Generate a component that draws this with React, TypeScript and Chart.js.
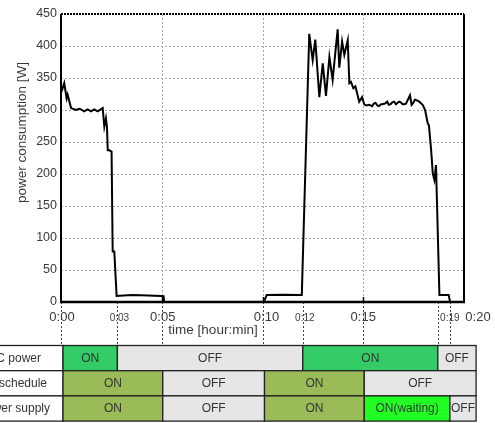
import { useEffect, useRef } from 'react';
import { Chart, registerables } from 'chart.js';

Chart.register(...registerables);

// ---- data ----
const timeMin = [0, 0.05, 0.16, 0.28, 0.33, 0.5, 0.74, 0.9, 0.99, 1.15, 1.32, 1.49, 1.65, 1.82, 2.07, 2.15, 2.23, 2.28, 2.32, 2.4, 2.51, 2.565, 2.645, 2.76, 3.5, 4.0, 4.96, 5.09, 5.12, 10.07, 10.21, 11.0, 11.95, 12.32, 12.49, 12.62, 12.82, 12.99, 13.15, 13.32, 13.48, 13.73, 13.81, 13.95, 14.06, 14.23, 14.31, 14.39, 14.51, 14.61, 14.72, 14.8, 14.94, 15.05, 15.15, 15.3, 15.44, 15.52, 15.61, 15.7, 15.78, 15.88, 15.94, 16.08, 16.19, 16.27, 16.36, 16.44, 16.53, 16.62, 16.69, 16.78, 16.86, 16.95, 17.03, 17.12, 17.32, 17.4, 17.48, 17.56, 17.66, 17.78, 17.95, 18.07, 18.2, 18.26, 18.37, 18.45, 18.53, 18.61, 18.78, 19.24, 19.31, 20];
const powerW = [327, 331, 342, 318, 324, 303, 300, 302, 301, 298, 301, 298, 301, 298, 303, 274, 287, 274, 237, 237, 235, 79, 79, 9.5, 11, 10.5, 9.5, 9, 0, 0, 11, 11.5, 11, 419, 378, 410, 320, 373, 322, 383, 347, 426, 366, 407, 386, 409, 342, 344, 334, 337, 323, 313, 320, 309, 307, 308, 306, 310, 311, 307, 306, 309, 309, 310, 313, 308, 309, 312, 313, 309, 311, 313, 312, 309, 309, 310, 323, 308, 311, 316, 315, 313, 308, 300, 279, 276, 237, 201, 191, 214, 11, 11, 0, 0];

const yGridValues = [50, 100, 150, 200, 250, 300, 350, 400];
const xGridValues = [5, 10, 15];
const xMajorTicks = [0, 5, 10, 15, 20];
const xMajorLabels = ['0:00', '0:05', '0:10', '0:15', '0:20'];
const xMinorTicks = [2.8, 12, 19];
const xMinorLabels = ['0:03', '0:12', '0:19'];
const xExtensionLines = [0, 2.8, 5, 10, 12, 15, 18.7, 19.3];

const rowLabels = ['PC power', 'schedule', 'power supply'];
const row1Bounds = [0.1, 2.8, 12, 18.7, 20.6];
const row1States = ['ON', 'OFF', 'ON', 'OFF'];
const row2Bounds = [0.1, 5.05, 10.1, 15.05, 20.6];
const row2States = ['ON', 'OFF', 'ON', 'OFF'];
const row3Bounds = [0.1, 5.05, 10.1, 15.05, 19.3, 20.6];
const row3States = ['ON', 'OFF', 'ON', 'ON(waiting)', 'OFF'];

const FONT = '"Liberation Sans", Arial, Helvetica, sans-serif';

const decor = {
  id: 'decor',
  beforeDatasetsDraw(chart: any) {
    const { ctx, chartArea: a, scales } = chart;
    const x = scales.x, y = scales.y;
    ctx.save();
    ctx.strokeStyle = '#a6a6a6';
    ctx.lineWidth = 1;
    ctx.setLineDash([2, 2]);
    ctx.beginPath();
    yGridValues.forEach((v) => {
      const py = Math.round(y.getPixelForValue(v)) + 0.5;
      ctx.moveTo(a.left, py);
      ctx.lineTo(a.right, py);
    });
    xGridValues.forEach((t) => {
      const px = Math.round(x.getPixelForValue(t)) + 0.5;
      ctx.moveTo(px, a.top);
      ctx.lineTo(px, a.bottom);
    });
    ctx.stroke();
    ctx.restore();
  },
  afterDraw(chart: any) {
    const { ctx, chartArea: a, scales } = chart;
    const x = scales.x;
    const tableTop = a.bottom + 43.5;
    const rowH = 25.2;
    ctx.save();

    // extension dotted lines below the axis
    ctx.strokeStyle = '#444';
    ctx.lineWidth = 1;
    ctx.setLineDash([2, 2]);
    ctx.beginPath();
    xExtensionLines.forEach((t) => {
      const px = Math.round(x.getPixelForValue(t)) + 0.5;
      ctx.moveTo(px, a.bottom);
      ctx.lineTo(px, tableTop);
    });
    ctx.stroke();

    // frame
    ctx.setLineDash([]);
    ctx.strokeStyle = '#000';
    ctx.lineWidth = 2;
    ctx.beginPath();
    ctx.moveTo(a.left, a.top);
    ctx.lineTo(a.left, a.bottom);
    ctx.moveTo(a.right, a.top);
    ctx.lineTo(a.right, a.bottom + 1);
    ctx.stroke();
    ctx.lineWidth = 2.5;
    ctx.beginPath();
    ctx.moveTo(a.left - 1, a.bottom);
    ctx.lineTo(a.right + 1, a.bottom);
    ctx.stroke();
    ctx.lineWidth = 2;
    ctx.setLineDash([2, 1]);
    ctx.beginPath();
    ctx.moveTo(a.left, a.top);
    ctx.lineTo(a.right, a.top);
    ctx.stroke();
    ctx.setLineDash([]);
    // inward ticks
    ctx.lineWidth = 1.5;
    ctx.beginPath();
    [5, 10, 15].forEach((t) => {
      const px = Math.round(x.getPixelForValue(t)) + 0.5;
      ctx.moveTo(px, a.bottom);
      ctx.lineTo(px, a.bottom - 5);
    });
    ctx.stroke();

    // x tick labels
    const labelY = a.bottom + 15.5;
    const majorNudge = [1, 1, 4, 0, 14];
    ctx.fillStyle = '#3a3a3a';
    ctx.textAlign = 'center';
    ctx.textBaseline = 'middle';
    ctx.font = `13px ${FONT}`;
    xMajorTicks.forEach((t, i) => {
      ctx.fillText(xMajorLabels[i], x.getPixelForValue(t) + majorNudge[i], labelY);
    });
    const minorNudge = [2, 2, 6];
    ctx.font = `10px ${FONT}`;
    xMinorTicks.forEach((t, i) => {
      ctx.fillText(xMinorLabels[i], x.getPixelForValue(t) + minorNudge[i], labelY + 0.5);
    });

    // axis titles
    ctx.font = `13.5px ${FONT}`;
    ctx.fillText('time [hour:min]', 213, a.bottom + 28.5);
    ctx.save();
    ctx.translate(22, 132.5);
    ctx.rotate(-Math.PI / 2);
    ctx.fillText('power consumption [W]', 0, 0);
    ctx.restore();

    // table
    const rows = [
      { b: row1Bounds, s: row1States, on: '#33cc66' },
      { b: row2Bounds, s: row2States, on: '#9bbb59' },
      { b: row3Bounds, s: row3States, on: '#9bbb59' },
    ];
    const colorFor = (state: string, on: string) =>
      state === 'ON' ? on : state === 'ON(waiting)' ? '#22ff22' : '#e6e6e6';
    const labelRight = [41, 47, 50];
    ctx.lineWidth = 1.3;
    ctx.strokeStyle = '#222';
    rows.forEach((r, ri) => {
      const top = tableTop + ri * rowH;
      const x0 = x.getPixelForValue(r.b[0]);
      // label cell
      ctx.fillStyle = '#fff';
      ctx.fillRect(-5, top, x0 + 5, rowH);
      ctx.strokeRect(-5, top, x0 + 5, rowH);
      ctx.fillStyle = '#333';
      ctx.font = `12px ${FONT}`;
      ctx.textAlign = 'right';
      ctx.fillText(rowLabels[ri], labelRight[ri], top + rowH / 2 + 0.5);
      ctx.textAlign = 'center';
      for (let k = 0; k < r.s.length; k++) {
        const xa = x.getPixelForValue(r.b[k]);
        const xb = x.getPixelForValue(r.b[k + 1]);
        ctx.fillStyle = colorFor(r.s[k], r.on);
        ctx.fillRect(xa, top, xb - xa, rowH);
        ctx.strokeRect(xa, top, xb - xa, rowH);
        ctx.fillStyle = '#333';
        ctx.fillText(r.s[k], (xa + xb) / 2, top + rowH / 2 + 0.5);
      }
    });
    ctx.restore();
  },
};

export default function App() {
  const ref = useRef<HTMLCanvasElement>(null);
  useEffect(() => {
    const canvas = ref.current!;
    const chart = new Chart(canvas, {
      type: 'line',
      data: {
        datasets: [
          {
            data: timeMin.map((t, i) => ({ x: t, y: powerW[i] })),
            borderColor: '#000',
            borderWidth: 2,
            pointRadius: 0,
            tension: 0,
            fill: false,
          },
        ],
      },
      options: {
        animation: false,
        responsive: false,
        maintainAspectRatio: false,
        layout: { padding: { top: 14, right: 31, left: 0, bottom: 0 } },
        plugins: { legend: { display: false }, tooltip: { enabled: false } },
        scales: {
          x: {
            type: 'linear',
            min: 0,
            max: 20,
            ticks: { display: false },
            grid: { display: false, drawTicks: false },
            border: { display: false },
            afterFit: (s: any) => {
              s.height = 121;
            },
          },
          y: {
            type: 'linear',
            min: 0,
            max: 450,
            ticks: { stepSize: 50, padding: 4, color: '#3a3a3a', font: { family: FONT, size: 12.5 } },
            grid: { display: false, drawTicks: false },
            border: { display: false },
            afterFit: (s: any) => {
              s.width = 61;
            },
          },
        },
      } as any,
      plugins: [decor],
    });
    return () => chart.destroy();
  }, []);
  return (
    <div style={{ position: 'absolute', left: 0, top: 0, width: 495, height: 423, background: '#fff' }}>
      <canvas ref={ref} width={495} height={423} style={{ display: 'block', width: 495, height: 423 }} />
    </div>
  );
}
